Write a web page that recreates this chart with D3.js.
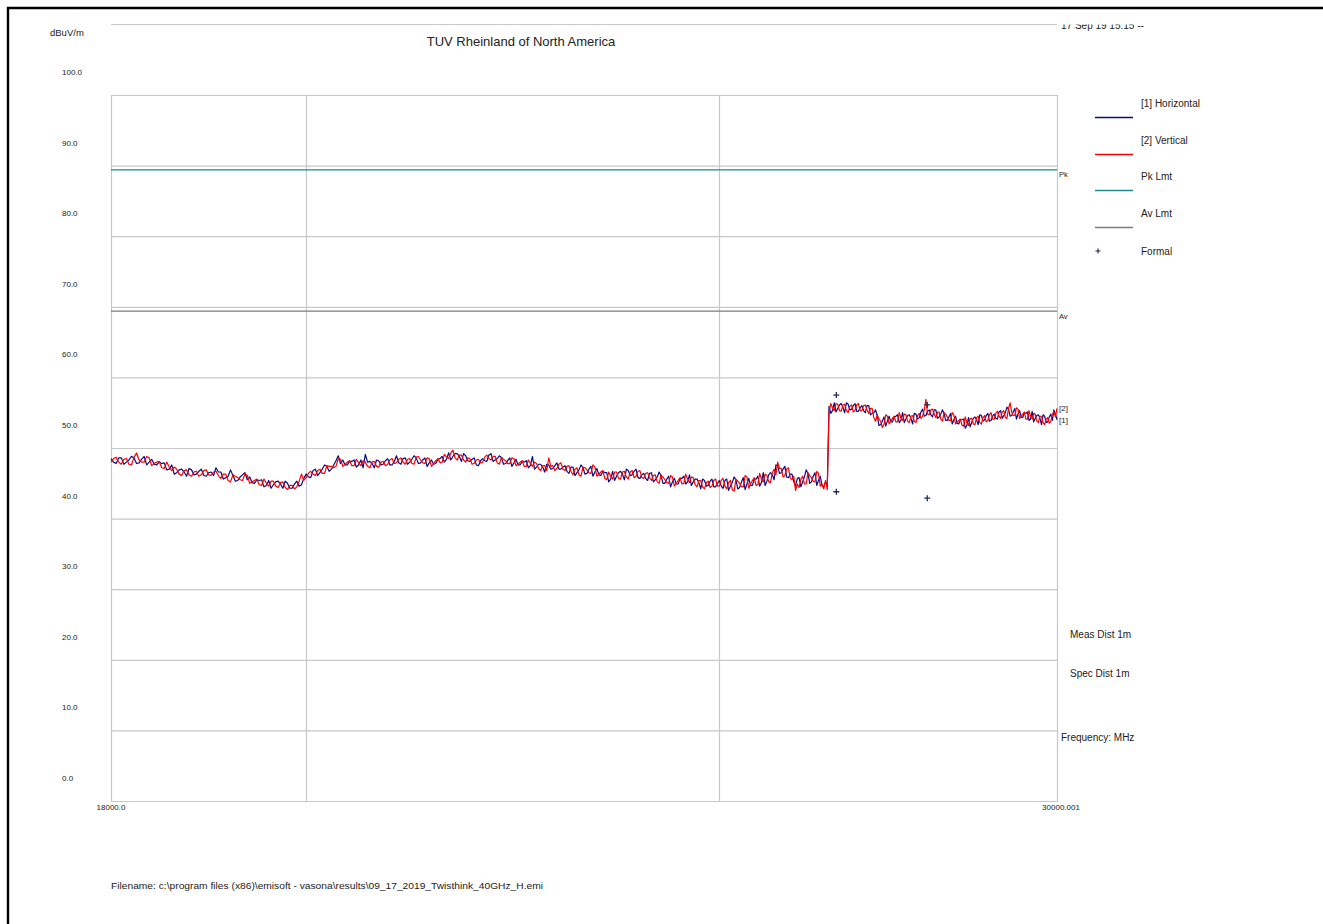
<!DOCTYPE html>
<html>
<head>
<meta charset="utf-8">
<script src="https://cdn.jsdelivr.net/npm/d3@7/dist/d3.min.js"></script>
<style>
  html, body { margin: 0; padding: 0; background: #fff; }
  svg { display: block; }
  text { font-family: "Liberation Sans", Arial, sans-serif; fill: #222; }
</style>
</head>
<body>
<script>
// Sweep frequencies (MHz), 25 MHz step, 18 GHz .. 30 GHz
const freqMHz = [
18000,18025,18050,18075,18100,18125,18150,18175,18200,18225,18250,18275,18300,18325,18350,18375,18400,18425,18450,18475,
18500,18525,18550,18575,18600,18625,18650,18675,18700,18725,18750,18775,18800,18825,18850,18875,18900,18925,18950,18975,
19000,19025,19050,19075,19100,19125,19150,19175,19200,19225,19250,19275,19300,19325,19350,19375,19400,19425,19450,19475,
19500,19525,19550,19575,19600,19625,19650,19675,19700,19725,19750,19775,19800,19825,19850,19875,19900,19925,19950,19975,
20000,20025,20050,20075,20100,20125,20150,20175,20200,20225,20250,20275,20300,20325,20350,20375,20400,20425,20450,20475,
20500,20525,20550,20575,20600,20625,20650,20675,20700,20725,20750,20775,20800,20825,20850,20875,20900,20925,20950,20975,
21000,21025,21050,21075,21100,21125,21150,21175,21200,21225,21250,21275,21300,21325,21350,21375,21400,21425,21450,21475,
21500,21525,21550,21575,21600,21625,21650,21675,21700,21725,21750,21775,21800,21825,21850,21875,21900,21925,21950,21975,
22000,22025,22050,22075,22100,22125,22150,22175,22200,22225,22250,22275,22300,22325,22350,22375,22400,22425,22450,22475,
22500,22525,22550,22575,22600,22625,22650,22675,22700,22725,22750,22775,22800,22825,22850,22875,22900,22925,22950,22975,
23000,23025,23050,23075,23100,23125,23150,23175,23200,23225,23250,23275,23300,23325,23350,23375,23400,23425,23450,23475,
23500,23525,23550,23575,23600,23625,23650,23675,23700,23725,23750,23775,23800,23825,23850,23875,23900,23925,23950,23975,
24000,24025,24050,24075,24100,24125,24150,24175,24200,24225,24250,24275,24300,24325,24350,24375,24400,24425,24450,24475,
24500,24525,24550,24575,24600,24625,24650,24675,24700,24725,24750,24775,24800,24825,24850,24875,24900,24925,24950,24975,
25000,25025,25050,25075,25100,25125,25150,25175,25200,25225,25250,25275,25300,25325,25350,25375,25400,25425,25450,25475,
25500,25525,25550,25575,25600,25625,25650,25675,25700,25725,25750,25775,25800,25825,25850,25875,25900,25925,25950,25975,
26000,26025,26050,26075,26100,26125,26150,26175,26200,26225,26250,26275,26300,26325,26350,26375,26400,26425,26450,26475,
26500,26525,26550,26575,26600,26625,26650,26675,26700,26725,26750,26775,26800,26825,26850,26875,26900,26925,26950,26975,
27000,27025,27050,27075,27100,27125,27150,27175,27200,27225,27250,27275,27300,27325,27350,27375,27400,27425,27450,27475,
27500,27525,27550,27575,27600,27625,27650,27675,27700,27725,27750,27775,27800,27825,27850,27875,27900,27925,27950,27975,
28000,28025,28050,28075,28100,28125,28150,28175,28200,28225,28250,28275,28300,28325,28350,28375,28400,28425,28450,28475,
28500,28525,28550,28575,28600,28625,28650,28675,28700,28725,28750,28775,28800,28825,28850,28875,28900,28925,28950,28975,
29000,29025,29050,29075,29100,29125,29150,29175,29200,29225,29250,29275,29300,29325,29350,29375,29400,29425,29450,29475,
29500,29525,29550,29575,29600,29625,29650,29675,29700,29725,29750,29775,29800,29825,29850,29875,29900,29925,29950,29975,
30000
];

// [1] Horizontal polarisation, dBuV/m
const horizontal = [
48.5,48.0,47.8,48.6,48.6,47.7,48.0,48.3,48.8,48.6,47.8,47.9,48.4,48.8,47.6,48.0,48.4,47.7,47.6,48.0,
47.8,47.9,46.9,47.0,47.6,46.3,46.5,46.9,47.0,46.6,46.0,47.1,46.9,46.2,46.3,46.7,47.0,46.1,46.0,46.5,
46.6,46.1,47.2,46.6,46.6,45.6,45.8,46.0,46.9,46.1,45.3,45.4,45.9,46.2,46.5,45.5,45.9,45.1,45.0,45.5,
45.4,45.5,44.5,44.7,45.4,44.3,44.8,45.2,45.3,44.9,44.3,45.3,45.0,44.3,44.3,44.9,45.3,44.6,44.8,45.7,
46.3,45.9,45.8,46.8,47.0,46.1,46.5,47.0,47.6,47.4,46.7,47.0,47.6,48.2,48.9,47.8,48.3,47.6,47.6,48.1,
48.1,48.3,47.3,47.6,48.3,47.2,49.1,48.0,48.1,47.8,47.2,48.3,48.2,47.6,47.7,48.2,48.5,47.6,47.6,48.1,
48.9,47.9,47.7,48.5,48.6,47.7,48.0,48.4,48.9,48.6,47.8,47.9,48.3,48.6,47.4,47.9,48.3,47.7,47.8,48.4,
48.5,48.8,48.0,48.4,49.3,48.3,48.8,49.2,49.2,48.8,48.1,49.2,48.9,48.2,48.1,48.4,48.6,47.6,47.5,48.2,
48.5,48.2,48.1,49.0,49.2,48.1,48.3,48.5,48.9,48.6,47.7,47.8,48.2,48.6,47.4,47.9,48.4,47.6,47.6,48.1,
48.0,48.2,47.2,47.5,48.8,47.0,47.3,47.7,47.7,47.3,46.6,47.7,47.6,47.0,47.1,47.5,47.9,47.0,47.0,47.3,
47.5,46.7,46.4,47.3,47.3,46.1,46.5,46.9,47.6,47.2,46.3,46.4,47.0,47.4,46.0,46.6,47.1,46.2,46.1,46.7,
46.5,46.5,45.2,45.6,46.7,45.4,46.0,46.5,46.7,46.3,45.5,47.0,46.8,46.1,46.2,46.7,47.0,45.8,45.7,46.2,
46.4,45.7,45.4,46.4,46.5,45.2,45.5,45.9,46.6,46.1,45.0,45.0,45.6,46.0,44.5,45.2,45.7,44.9,44.9,45.7,
45.7,46.0,44.9,45.2,46.2,44.7,45.2,45.6,45.6,45.1,44.2,45.6,45.4,44.6,44.7,45.3,45.6,44.5,44.5,45.0,
45.4,44.6,44.3,45.4,45.6,44.0,44.6,45.1,45.9,45.5,44.2,44.4,45.2,45.8,44.1,44.9,45.7,44.7,44.7,45.6,
45.6,46.0,44.6,45.1,46.5,44.7,45.3,46.2,46.5,46.2,45.5,47.6,47.5,46.4,46.5,47.0,47.4,45.9,45.8,46.3,
46.3,45.2,44.6,45.7,45.8,44.5,45.2,45.9,46.9,46.4,45.0,45.2,46.0,46.5,44.7,45.4,46.0,44.7,44.5,45.2,
44.6,55.9,54.9,55.3,56.4,55.1,55.6,56.1,56.3,55.8,55.0,56.4,56.2,55.4,55.5,56.0,56.3,55.2,55.2,55.7,
56.0,55.3,55.0,56.0,56.0,54.7,54.9,55.0,55.4,54.6,53.2,53.3,53.8,54.4,53.1,53.8,54.5,53.7,53.7,54.4,
54.5,54.7,53.6,53.9,55.0,53.6,54.1,54.6,54.7,54.2,53.4,54.9,54.8,54.1,54.3,55.1,55.5,54.5,54.6,55.2,
55.4,54.7,54.4,55.4,55.4,54.2,54.4,54.8,55.4,54.9,53.9,53.9,54.4,54.9,53.4,54.0,54.5,53.5,53.4,54.0,
54.0,54.1,52.8,53.2,54.3,53.0,53.6,54.2,54.4,54.0,53.3,54.7,54.6,53.8,54.0,54.6,54.9,53.8,53.9,54.5,
54.8,54.2,54.1,55.1,55.3,54.2,54.6,55.0,55.8,55.5,54.5,54.6,55.1,55.6,54.1,54.8,55.3,54.4,54.3,55.0,
54.9,55.1,53.9,54.1,55.2,53.7,54.2,54.6,54.7,54.2,53.3,54.7,54.5,53.6,53.7,54.4,54.8,53.9,55.4,54.8,
54.0
];

// [2] Vertical polarisation, dBuV/m
const vertical = [
48.0,48.5,48.7,48.0,47.7,48.4,48.5,47.7,47.6,48.7,49.3,48.3,48.0,48.0,48.8,48.6,47.5,47.8,48.0,48.1,
47.2,47.1,48.0,47.3,46.8,47.3,47.0,46.3,46.1,46.8,46.9,46.2,46.0,46.6,46.7,46.0,46.2,46.8,46.9,46.2,
46.1,46.6,46.7,46.1,45.7,46.3,46.3,45.4,45.2,46.2,46.0,45.8,45.5,45.4,46.3,46.1,45.0,45.2,45.4,45.6,
44.8,44.7,45.6,45.0,44.6,45.3,45.3,44.6,44.4,45.1,45.2,44.4,44.1,44.7,44.7,44.2,44.5,45.3,46.3,45.4,
45.8,46.4,46.7,46.3,46.1,46.8,47.0,46.4,46.4,47.5,47.4,47.4,47.2,47.4,48.5,48.4,47.4,47.7,48.0,48.2,
47.5,47.5,48.4,47.9,47.5,48.2,48.0,47.4,47.2,48.0,48.1,47.4,47.3,48.0,48.1,47.5,47.7,48.3,48.5,47.8,
47.9,48.4,48.6,48.0,47.7,48.4,48.5,47.8,47.7,48.7,48.8,48.3,47.9,47.8,48.6,48.5,47.4,47.8,48.2,48.5,
47.9,48.0,49.1,48.7,48.5,49.3,49.7,48.6,48.3,49.0,49.0,48.3,48.0,48.6,48.5,47.7,47.8,48.3,48.4,47.9,
48.0,48.7,49.0,48.5,48.3,48.8,48.8,47.9,47.7,48.7,48.4,48.2,47.8,47.8,48.6,48.5,47.5,47.7,48.0,48.2,
47.4,47.4,48.3,47.8,47.4,48.0,47.8,47.1,46.8,47.5,47.5,46.8,48.6,47.4,47.5,46.8,47.1,47.7,47.9,47.0,
46.8,47.4,47.5,46.7,46.2,47.0,47.2,46.2,46.0,47.3,47.2,46.9,46.5,46.4,47.6,47.3,46.0,46.3,46.6,46.8,
45.7,45.5,46.6,46.0,45.6,46.6,46.6,45.7,45.6,46.6,46.7,45.9,45.6,46.6,46.8,45.8,46.0,46.7,46.8,45.8,
45.7,46.4,46.5,45.8,45.4,46.1,46.2,45.2,45.0,46.2,45.9,45.5,45.1,45.0,46.1,45.9,44.6,45.0,45.4,45.8,
44.9,45.0,46.3,45.6,45.1,45.9,45.8,44.8,44.5,45.4,45.4,44.5,44.2,45.1,45.3,44.4,44.6,45.4,45.6,44.6,
44.6,45.4,45.7,44.6,44.2,45.1,45.4,44.1,43.9,45.6,45.3,45.0,44.5,44.5,46.1,45.9,44.3,44.9,45.4,45.8,
44.7,44.8,46.4,45.6,45.2,46.3,46.1,45.2,45.1,46.5,47.0,46.2,48.0,47.1,47.1,45.9,46.1,47.0,47.2,45.8,
45.5,46.0,44.0,44.9,44.4,45.6,46.0,44.9,44.9,46.5,46.1,45.8,45.3,45.2,46.7,46.4,44.6,44.9,44.2,45.4,
44.1,55.0,56.3,55.7,55.3,56.3,56.2,55.3,55.2,56.1,56.2,55.3,55.0,55.9,56.1,55.1,55.3,56.1,56.3,55.3,
55.3,56.0,56.1,55.4,54.9,55.6,55.6,54.3,53.8,54.7,54.1,53.8,52.9,53.4,54.7,54.5,53.4,53.8,54.2,54.5,
53.7,53.7,55.0,54.3,53.9,54.8,54.7,53.8,53.6,54.5,54.6,53.8,53.6,54.6,54.9,54.2,54.5,55.4,56.9,54.8,
54.7,55.4,55.5,54.8,54.3,55.1,55.1,54.1,53.8,55.0,54.8,54.4,53.9,53.9,55.0,54.7,53.4,53.6,53.9,54.1,
53.2,53.1,54.4,53.6,53.2,54.2,54.2,53.4,53.3,54.3,54.5,53.6,53.4,54.3,54.6,53.7,53.9,54.7,55.0,54.1,
54.1,54.9,55.2,54.5,54.2,55.1,55.3,54.3,54.2,55.6,56.4,55.1,54.6,54.6,55.7,55.5,54.2,54.5,54.8,55.1,
54.1,54.1,55.3,54.5,54.1,54.9,54.8,53.8,53.6,54.5,54.5,53.6,53.3,54.1,54.3,53.5,53.8,54.8,55.1,54.4,
55.6
];

// Formal (final) measurements
const formalFreq  = [26630, 26630, 27970, 27970];
const formalLevel = [57.5, 43.8, 56.1, 42.9];

// Limits, dBuV/m
const limitNames  = ["Pk", "Av"];
const limitLevels = [89.4, 69.4];

// Axis ticks and labels
const yTicks      = [0, 10, 20, 30, 40, 50, 60, 70, 80, 90, 100];
const yTickLabels = ["0.0","10.0","20.0","30.0","40.0","50.0","60.0","70.0","80.0","90.0","100.0"];
const xGridFreq   = [20000, 25000];
const xEndLabels  = ["18000.0", "30000.001"];

const legendLabels = ["[1] Horizontal", "[2] Vertical", "Pk Lmt", "Av Lmt", "Formal"];
const notes = ["Meas Dist 1m", "Spec Dist 1m"];

const W = 1323, H = 924;
const colH = "#0a0a82", colV = "#ff0000", colPk = "#1a8c8c", colAv = "#7a7a7a", colGrid = "#c8c8c8";

const svg = d3.select("body").append("svg").attr("width", W).attr("height", H);

const x = d3.scaleLog().domain([18000, 30000.001]).range([111, 1057]);
const y = d3.scaleLinear().domain([0, 100]).range([801, 95]);

// page frame (top and left edges)
svg.append("line").attr("x1", 7).attr("x2", W).attr("y1", 8).attr("y2", 8)
  .attr("stroke", "#000").attr("stroke-width", 2.4);
svg.append("line").attr("x1", 8).attr("x2", 8).attr("y1", 7).attr("y2", H)
  .attr("stroke", "#000").attr("stroke-width", 2.4);

// header rule and clipped timestamp
svg.append("line").attr("x1", 111).attr("x2", 1057).attr("y1", 24.5).attr("y2", 24.5)
  .attr("stroke", colGrid).attr("stroke-width", 1.2);
svg.append("clipPath").attr("id", "stampClip")
  .append("rect").attr("x", 1055).attr("y", 24.5).attr("width", 150).attr("height", 20);
svg.append("text").attr("clip-path", "url(#stampClip)")
  .attr("x", 1061).attr("y", 28.5).attr("font-size", 10).text("17 Sep 19 15:15 --");

svg.append("text").attr("x", 50).attr("y", 36).attr("font-size", 9.5).text("dBuV/m");
svg.append("text").attr("x", 521).attr("y", 45.5).attr("font-size", 13)
  .attr("text-anchor", "middle").text("TUV Rheinland of North America");

// grid
const g = svg.append("g");
g.selectAll("line.hg").data(yTicks).join("line").attr("class", "hg")
  .attr("x1", 111).attr("x2", 1057)
  .attr("y1", d => y(d) + 0.5).attr("y2", d => y(d) + 0.5)
  .attr("stroke", colGrid).attr("stroke-width", 1.2);
g.selectAll("line.vg").data(xGridFreq.concat([18000, 30000.001])).join("line").attr("class", "vg")
  .attr("x1", d => Math.round(x(d)) + 0.5).attr("x2", d => Math.round(x(d)) + 0.5)
  .attr("y1", y(100)).attr("y2", y(0) + 1)
  .attr("stroke", colGrid).attr("stroke-width", 1.2);

// y tick labels (sit above their grid lines)
svg.selectAll("text.yl").data(yTicks).join("text").attr("class", "yl")
  .attr("x", 62).attr("y", d => y(d) - 23 + 3)
  .attr("font-size", 8).text((d, i) => yTickLabels[i]);

// x end labels
svg.selectAll("text.xl").data([18000, 30000.001]).join("text").attr("class", "xl")
  .attr("x", d => x(d) + (d > 20000 ? 4 : 0)).attr("y", 810)
  .attr("font-size", 8).attr("text-anchor", "middle").text((d, i) => xEndLabels[i]);

// limit lines
const limCols = [colPk, colAv];
svg.selectAll("line.lim").data(limitLevels).join("line").attr("class", "lim")
  .attr("x1", 111).attr("x2", 1057).attr("y1", d => y(d)).attr("y2", d => y(d))
  .attr("stroke", (d, i) => limCols[i]).attr("stroke-width", 1.3);
svg.selectAll("text.liml").data(limitLevels).join("text").attr("class", "liml")
  .attr("x", 1059).attr("y", d => y(d) + 7.5).attr("font-size", 7.5)
  .text((d, i) => limitNames[i]);

// traces
const line = d3.line().x(d => x(d[0])).y(d => y(d[1]));
const hData = freqMHz.map((f, i) => [f, horizontal[i]]);
const vData = freqMHz.map((f, i) => [f, vertical[i]]);
svg.append("path").attr("d", line(hData)).attr("fill", "none")
  .attr("stroke", colH).attr("stroke-width", 1.2).attr("stroke-linejoin", "round");
svg.append("path").attr("d", line(vData)).attr("fill", "none")
  .attr("stroke", colV).attr("stroke-width", 1.2).attr("stroke-linejoin", "round");

// trace end tags
const endTags = [["[2]", vertical[vertical.length - 1]], ["[1]", horizontal[horizontal.length - 1]]];
svg.selectAll("text.tag").data(endTags).join("text").attr("class", "tag")
  .attr("x", 1059).attr("y", d => y(d[1]) + 3).attr("font-size", 8)
  .attr("fill", "#445").text(d => d[0]);

// formal measurement markers
const cross = "M-3,0H3M0,-3V3";
svg.selectAll("path.fm").data(formalFreq).join("path").attr("class", "fm")
  .attr("transform", (d, i) => `translate(${x(d)},${y(formalLevel[i])})`)
  .attr("d", cross).attr("stroke", "#1e2d5c").attr("stroke-width", 1.3);

// legend
const legY = [103, 140, 176, 213, 251];
const legCols = [colH, colV, colPk, colAv];
svg.selectAll("text.lg").data(legendLabels).join("text").attr("class", "lg")
  .attr("x", 1141).attr("y", (d, i) => legY[i] + 3.5).attr("font-size", 10).text(d => d);
svg.selectAll("line.lgl").data(legCols).join("line").attr("class", "lgl")
  .attr("x1", 1095).attr("x2", 1133)
  .attr("y1", (d, i) => legY[i] + 14.5).attr("y2", (d, i) => legY[i] + 14.5)
  .attr("stroke", d => d).attr("stroke-width", 1.3);
svg.append("path").attr("transform", `translate(1098,${legY[4]})`)
  .attr("d", "M-2.5,0H2.5M0,-2.5V2.5").attr("stroke", "#1e2d5c").attr("stroke-width", 1.2);

// notes on the right
svg.selectAll("text.note").data(notes).join("text").attr("class", "note")
  .attr("x", 1070).attr("y", (d, i) => [637.5, 676.5][i]).attr("font-size", 10).text(d => d);
svg.append("text").attr("x", 1061).attr("y", 740.5).attr("font-size", 10).text("Frequency: MHz");

// footer
svg.append("text").attr("x", 111).attr("y", 889).attr("font-size", 9)
  .attr("textLength", 432).attr("lengthAdjust", "spacingAndGlyphs")
  .text("Filename: c:\\program files (x86)\\emisoft - vasona\\results\\09_17_2019_Twisthink_40GHz_H.emi");
</script>
</body>
</html>
